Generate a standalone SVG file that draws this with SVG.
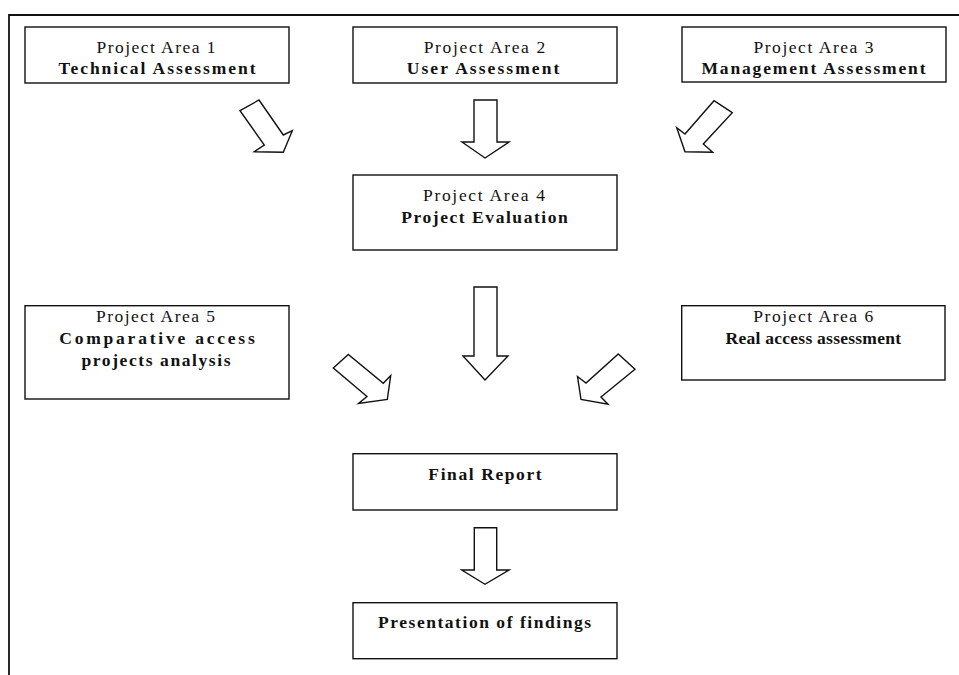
<svg xmlns="http://www.w3.org/2000/svg" width="959" height="675" viewBox="0 0 959 675">
<style>
.box{fill:#fff;stroke:#111;stroke-width:1.4}
.arr{fill:#fff;stroke:#111;stroke-width:1.4;stroke-linejoin:miter}
.frame{fill:none;stroke:#111;stroke-width:1.8}
text{font-family:"Liberation Serif","Times New Roman",serif;font-size:17.5px;fill:#111;text-anchor:middle}
.b{font-weight:bold}
</style>
<rect width="959" height="675" fill="#fff"/>
<path class="frame" d="M9,675 V15 H959"/>
<g id="pa1">
<rect class="box" x="25" y="27" width="264" height="56"/>
<text x="156" y="52.5" textLength="119" lengthAdjust="spacing">Project Area 1</text>
<text class="b" x="157" y="74" textLength="197" lengthAdjust="spacing">Technical Assessment</text>
</g>
<g id="pa2">
<rect class="box" x="353" y="27" width="264" height="56"/>
<text x="484.5" y="52.5" textLength="121.5" lengthAdjust="spacing">Project Area 2</text>
<text class="b" x="483" y="74" textLength="152.5" lengthAdjust="spacing">User Assessment</text>
</g>
<g id="pa3">
<rect class="box" x="682" y="27" width="264" height="55"/>
<text x="813.5" y="52.5" textLength="120" lengthAdjust="spacing">Project Area 3</text>
<text class="b" x="813.5" y="74" textLength="224" lengthAdjust="spacing">Management Assessment</text>
</g>
<g id="pa4">
<rect class="box" x="353" y="175" width="264" height="75"/>
<text x="484" y="200.7" textLength="122" lengthAdjust="spacing">Project Area 4</text>
<text class="b" x="484.5" y="222.7" textLength="166.5" lengthAdjust="spacing">Project Evaluation</text>
</g>
<g id="pa5">
<rect class="box" x="25" y="305.7" width="264" height="93.3"/>
<text x="155.5" y="322" textLength="119" lengthAdjust="spacing">Project Area 5</text>
<text class="b" x="157" y="344" textLength="195.5" lengthAdjust="spacing">Comparative access</text>
<text class="b" x="156" y="366" textLength="149" lengthAdjust="spacing">projects analysis</text>
</g>
<g id="pa6">
<rect class="box" x="681.7" y="305.7" width="263.3" height="74.3"/>
<text x="813.3" y="322" textLength="120" lengthAdjust="spacing">Project Area 6</text>
<text class="b" x="813.3" y="344" textLength="175.5" lengthAdjust="spacing">Real access assessment</text>
</g>
<g id="final">
<rect class="box" x="353" y="453.7" width="264" height="56.3"/>
<text class="b" x="485" y="480" textLength="113.3" lengthAdjust="spacing">Final Report</text>
</g>
<g id="present">
<rect class="box" x="353" y="602.7" width="264" height="56"/>
<text class="b" x="484.5" y="627.5" textLength="213" lengthAdjust="spacing">Presentation of findings</text>
</g>
<g id="connectors">
<polygon class="arr" points="240,110.7 259,100 283.3,135 292.3,130.7 283.3,152.3 254.3,151.7 264.3,145"/>
<polygon class="arr" points="474,100 497,100 497,142 509,142 485,158 462,142 474,142"/>
<polygon class="arr" points="714,100.7 732.3,112.7 703.3,144 712.7,152.3 685,151.7 676.7,127.7 685,134"/>
<polygon class="arr" points="474,287 497,287 497,356 508,356 485,380 463,356 474,356"/>
<polygon class="arr" points="333.3,368 348.3,354.5 383.3,383.3 390.7,375.5 387.3,399.5 358.5,403.5 367,396.5"/>
<polygon class="arr" points="618.3,354 635,369.3 601,397 608,404.3 581,399.5 577.5,376.5 586,383"/>
<polygon class="arr" points="474.3,527.7 496.7,527.7 496.7,570 509,570 485,584.3 461.7,570 474.3,570"/>
</g>
</svg>
